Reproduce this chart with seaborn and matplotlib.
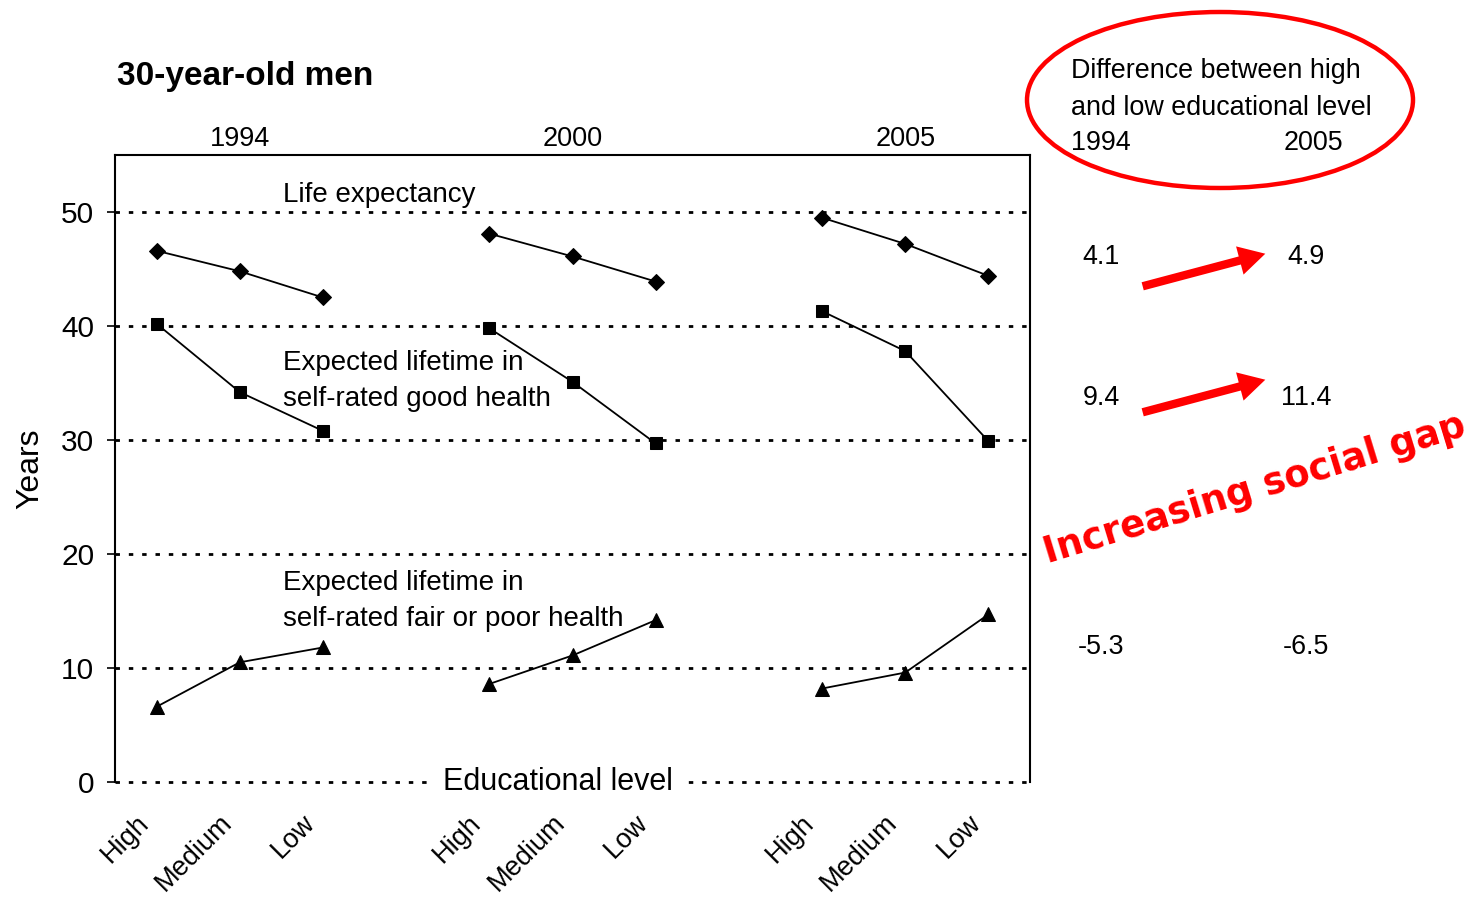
import numpy as np
import pandas as pd
import matplotlib
matplotlib.use("Agg")
import matplotlib.pyplot as plt
import matplotlib.transforms as mtransforms
from matplotlib.patches import Ellipse, FancyArrowPatch
import seaborn as sns

# ---------------- data ----------------
years = ["1994", "2000", "2005"]
levels = ["High", "Medium", "Low"]
life_expectancy = [[46.6, 44.8, 42.5], [48.1, 46.1, 43.9], [49.5, 47.2, 44.4]]
good_health = [[40.2, 34.2, 30.8], [39.8, 35.1, 29.7], [41.3, 37.8, 29.9]]
poor_health = [[6.6, 10.5, 11.8], [8.6, 11.1, 14.2], [8.2, 9.6, 14.7]]
series_names = ["Life expectancy",
                "Expected lifetime in\nself-rated good health",
                "Expected lifetime in\nself-rated fair or poor health"]
diff_1994 = ["4.1", "9.4", "-5.3"]
diff_2005 = ["4.9", "11.4", "-6.5"]
y_ticks = [0, 10, 20, 30, 40, 50]

# ---------------- style ----------------
sns.set_theme(style="white")
plt.rcParams["font.family"] = ["Liberation Sans", "DejaVu Sans"]
for k in ["text.color", "axes.labelcolor", "xtick.color", "ytick.color"]:
    plt.rcParams[k] = "black"

W, H = 1472, 897
fig = plt.figure(figsize=(W / 100, H / 100), dpi=100)
ax = fig.add_axes([115 / W, 1 - 782 / H, (1030 - 115) / W, (782 - 155) / H])

rows = []
for s_name, vals in zip(series_names, [life_expectancy, good_health, poor_health]):
    for gi, yr in enumerate(years):
        for li, lv in enumerate(levels):
            rows.append(dict(series=s_name, year=yr, level=lv,
                             pos=gi * 4 + li, value=vals[gi][li]))
df = pd.DataFrame(rows)

markers = {series_names[0]: "D", series_names[1]: "s", series_names[2]: "^"}
msizes = {series_names[0]: 8.5, series_names[1]: 9, series_names[2]: 10}
for s_name in series_names:
    for yr in years:
        sub = df[(df.series == s_name) & (df.year == yr)]
        sns.lineplot(data=sub, x="pos", y="value", ax=ax, color="black",
                     linewidth=1.3, marker=markers[s_name],
                     markersize=msizes[s_name], markeredgecolor="black",
                     markerfacecolor="black", zorder=3)

# gridlines (dotted)
for yv in y_ticks:
    ax.axhline(yv, color="black", linestyle=(0, (1.6, 3.2)), linewidth=2.0,
               zorder=1, clip_on=False)

ax.set_xlim(-0.5, 10.5)
ax.set_ylim(0, 55)
ax.set_yticks(y_ticks)
ax.set_yticklabels([str(v) for v in y_ticks], fontsize=21.5)
ax.tick_params(axis="y", length=6, width=1.2, color="black", direction="out",
               left=True, pad=9)
ax.set_xticks(df["pos"].unique())
ax.set_xticklabels(levels * 3, rotation=45, ha="right", va="top",
                   rotation_mode="anchor", fontsize=19.5)
ax.tick_params(axis="x", length=0, pad=20)
offset = mtransforms.ScaledTranslation(-0.21, 0, fig.dpi_scale_trans)
for lab in ax.get_xticklabels():
    lab.set_transform(lab.get_transform() + offset)

ax.set_xlabel("")
ax.set_ylabel("Years", fontsize=23, labelpad=11)
for side in ["left", "top", "right"]:
    ax.spines[side].set_visible(True)
    ax.spines[side].set_color("black")
    ax.spines[side].set_linewidth(1.5)
ax.spines["bottom"].set_visible(False)

# year labels above the axes
trans = mtransforms.blended_transform_factory(ax.transData, ax.transAxes)
for gi, yr in enumerate(years):
    ax.text(gi * 4 + 1, 1.026, yr, transform=trans, ha="center", va="center",
            fontsize=19.5)

# series labels
ax.text(1.52, 51.5, series_names[0], ha="left", va="center", fontsize=20)
ax.text(1.52, 35.2, series_names[1], ha="left", va="center", fontsize=20,
        linespacing=1.5)
ax.text(1.52, 15.9, series_names[2], ha="left", va="center", fontsize=20,
        linespacing=1.5)

# x-axis label sitting on the baseline
ax.text(4.82, 0, "Educational level", ha="center", va="center", fontsize=22,
        bbox=dict(facecolor="white", edgecolor="none",
                  boxstyle="square,pad=0.5"), zorder=5)

# title
def fx(px):
    return px / W

def fy(py):
    return 1 - py / H

fig.text(fx(117), fy(76), "30-year-old men", ha="left", va="center",
         fontsize=24, fontweight="bold")

# right-hand annotation
fig.text(fx(1071), fy(71), "Difference between high", ha="left", va="center",
         fontsize=19.4)
fig.text(fx(1071), fy(108), "and low educational level", ha="left",
         va="center", fontsize=19.4)
fig.text(fx(1071), fy(143), years[0], ha="left", va="center", fontsize=19.4)
fig.text(fx(1284), fy(143), years[2], ha="left", va="center", fontsize=19.4)

ell = Ellipse((fx(1220), fy(100)), 386 / W, 176 / H, transform=fig.transFigure,
              fill=False, edgecolor="#ff0000", linewidth=3.2)
fig.patches.append(ell)

row_y = [257, 398, 647]
for v94, v05, ry in zip(diff_1994, diff_2005, row_y):
    fig.text(fx(1101), fy(ry), v94, ha="center", va="center", fontsize=19.4)
    fig.text(fx(1306), fy(ry), v05, ha="center", va="center", fontsize=19.4)

for (x0, y0, x1, y1) in [(1140, 287, 1268, 253), (1140, 413, 1268, 379)]:
    arr = FancyArrowPatch((fx(x0), fy(y0)), (fx(x1), fy(y1)),
                          transform=fig.transFigure,
                          arrowstyle="simple,head_length=0.95,head_width=1.05,tail_width=0.3",
                          mutation_scale=20, color="#ff0000", linewidth=0)
    fig.patches.append(arr)

fig.text(fx(1255), fy(489), "Increasing social gap", ha="center", va="center",
         rotation=17, fontsize=26.5, fontweight="bold", color="#ff0000",
         family=["DejaVu Sans"])

fig.savefig("out.png", dpi=100, facecolor="white")
